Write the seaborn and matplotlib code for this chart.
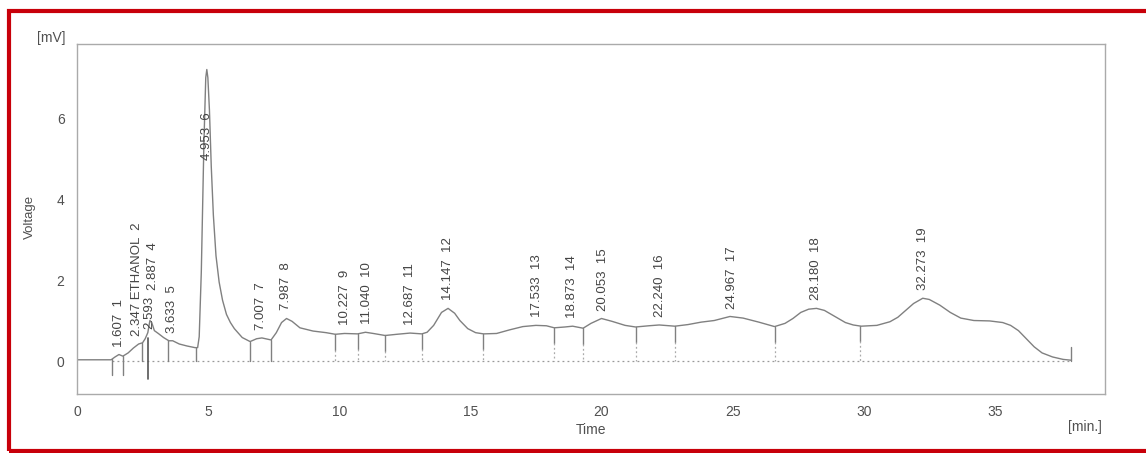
import numpy as np
import matplotlib
matplotlib.use("Agg")
import matplotlib.pyplot as plt
import seaborn as sns
from matplotlib.patches import Rectangle

tiempo = [0.0, 1.3, 1.45, 1.6, 1.75, 1.95, 2.15, 2.35, 2.5, 2.6, 2.7, 2.78, 2.85,
          2.95, 3.1, 3.3, 3.5, 3.65, 3.9, 4.2, 4.5, 4.6, 4.66, 4.74, 4.84, 4.91,
          4.95, 4.99, 5.05, 5.12, 5.2, 5.3, 5.42, 5.55, 5.7, 5.85, 6.0, 6.3, 6.6,
          6.85, 7.05, 7.4, 7.6, 7.8, 7.99, 8.2, 8.5, 9.0, 9.5, 9.85, 10.2, 10.7,
          11.0, 11.3, 11.75, 12.2, 12.7, 13.15, 13.35, 13.6, 13.9, 14.15, 14.4,
          14.6, 14.9, 15.2, 15.5, 16.0, 16.5, 17.0, 17.5, 17.9, 18.2, 18.6, 18.9,
          19.3, 19.6, 20.0, 20.4, 20.9, 21.3, 21.8, 22.2, 22.8, 23.3, 23.8, 24.3,
          24.9, 25.4, 26.0, 26.6, 27.0, 27.3, 27.6, 27.9, 28.2, 28.5, 28.9, 29.3,
          29.6, 29.9, 30.5, 31.0, 31.3, 31.6, 31.9, 32.25, 32.5, 32.9, 33.3, 33.7,
          34.2, 34.8, 35.3, 35.6, 35.9, 36.2, 36.5, 36.8, 37.2, 37.6, 37.9]
voltaje = [0.03, 0.03, 0.1, 0.16, 0.12, 0.2, 0.32, 0.42, 0.45, 0.55, 0.7, 1.0, 0.95,
           0.75, 0.68, 0.58, 0.5, 0.5, 0.42, 0.37, 0.33, 0.33, 0.6, 2.2, 5.4, 7.0,
           7.2, 7.0, 6.2, 4.8, 3.6, 2.6, 1.95, 1.5, 1.15, 0.95, 0.8, 0.58, 0.48,
           0.55, 0.57, 0.52, 0.7, 0.95, 1.05, 0.98, 0.82, 0.74, 0.7, 0.66, 0.68, 0.67,
           0.71, 0.68, 0.63, 0.66, 0.69, 0.67, 0.71, 0.88, 1.2, 1.3, 1.18,
           1.0, 0.8, 0.7, 0.67, 0.68, 0.77, 0.85, 0.88, 0.87, 0.82, 0.84, 0.86,
           0.81, 0.93, 1.05, 0.98, 0.88, 0.84, 0.87, 0.89, 0.86, 0.9, 0.96, 1.0,
           1.1, 1.06, 0.96, 0.85, 0.93, 1.05, 1.2, 1.28, 1.3, 1.25, 1.1, 0.95,
           0.89, 0.86, 0.88, 0.97, 1.08, 1.25, 1.42, 1.55, 1.52, 1.38, 1.2, 1.06,
           1.0, 0.99, 0.95, 0.88, 0.75, 0.55, 0.35, 0.2, 0.1, 0.04, 0.02]

# Picos: tiempo de retención y etiqueta
picos_t = [1.607, 2.347, 2.593, 2.887, 3.633, 4.953, 7.007, 7.987, 10.227, 11.040,
           12.687, 14.147, 17.533, 18.873, 20.053, 22.240, 24.967, 28.180, 32.273]
picos_txt = ["1.607  1", "2.347 ETHANOL  2", "2.593", "2.887  4", "3.633  5",
             "4.953  6", "7.007  7", "7.987  8", "10.227  9", "11.040  10",
             "12.687  11", "14.147  12", "17.533  13", "18.873  14", "20.053  15",
             "22.240  16", "24.967  17", "28.180  18", "32.273  19"]

# Límites de integración (marcas verticales)
limites = [1.33, 1.75, 2.47, 2.72, 3.46, 4.52, 6.6, 7.4, 9.85, 10.7, 11.75, 13.15,
           15.5, 18.2, 19.3, 21.3, 22.8, 26.6, 29.85]
fin_t = 37.9

gris = "#808080"
texto = "#505050"

sns.set_theme(style="white")
plt.rcParams['font.family'] = ['Liberation Sans', 'DejaVu Sans']

fig = plt.figure(figsize=(11.46, 4.53), dpi=100)
ax = fig.add_axes([77 / 1146, 1 - 394 / 453, 1028 / 1146, 350 / 453])

sns.lineplot(x=tiempo, y=voltaje, sort=False, estimator=None, color=gris,
             linewidth=1.0, ax=ax)

# línea base punteada
ax.plot([limites[0], fin_t], [0, 0], linestyle=(0, (1.5, 2.5)), color="#999999",
        linewidth=0.9)
ax.plot([fin_t, fin_t], [0, 0.35], color=gris, linewidth=1.0)

for t in limites:
    v = np.interp(t, tiempo, voltaje)
    if t in (1.33, 1.75):
        ax.plot([t, t], [v, -0.35], color=gris, linewidth=1.0)
    elif t == 2.72:
        ax.plot([t, t], [v - 0.2, -0.45], color="#555555", linewidth=1.2)
    elif t < 8:
        ax.plot([t, t], [v, 0], color=gris, linewidth=1.0)
    else:
        ax.plot([t, t], [v, v - 0.38], color=gris, linewidth=1.0)
        ax.plot([t, t], [v - 0.38, 0], color="#aaaaaa", linewidth=0.9,
                linestyle=(0, (1.5, 2)))

# etiquetas de picos
for t, s in zip(picos_t, picos_txt):
    x = t
    y = np.interp(t, tiempo, voltaje) + 0.2
    if s.startswith("2.887"):
        y = 1.75
    elif s.startswith("2.347"):
        x = 2.30
    elif s.startswith("2.593"):
        x, y = 2.75, 0.8
    elif s.startswith("4.953"):
        y = 4.96
    ax.text(x, y, s, rotation=90, ha="center", va="bottom", fontsize=9.5,
            color="#444444")

ax.set_xlim(0, 39.2)
ax.set_ylim(-0.815, 7.83)
ax.set_xticks([0, 5, 10, 15, 20, 25, 30, 35])
ax.set_yticks([0, 2, 4, 6])
ax.tick_params(axis="both", direction="out", colors="#999999", labelcolor=texto,
               labelsize=10, width=1)
ax.tick_params(axis="x", length=7, pad=1)
ax.tick_params(axis="y", length=8, pad=1)
ax.grid(False)
for sp in ax.spines.values():
    sp.set_visible(True)
    sp.set_color("#aaaaaa")
    sp.set_linewidth(1.0)

fig.text(51 / 1146, 1 - 38 / 453, "[mV]", ha="center", va="center", fontsize=10,
         color=texto)
fig.text(30 / 1146, 1 - 217 / 453, "Voltage", ha="center", va="center", fontsize=9.5,
         rotation=90, color=texto)
fig.text(591 / 1146, 1 - 430 / 453, "Time", ha="center", va="center", fontsize=10,
         color=texto)
fig.text(1085 / 1146, 1 - 427 / 453, "[min.]", ha="center", va="center", fontsize=10,
         color=texto)

# marco rojo
fig.patches.append(Rectangle((9 / 1146, 1 - 451 / 453), 1.0, (451 - 11) / 453,
                             transform=fig.transFigure, fill=False,
                             edgecolor="#c8000a", linewidth=3, figure=fig))

fig.savefig("out.png", dpi=100)
